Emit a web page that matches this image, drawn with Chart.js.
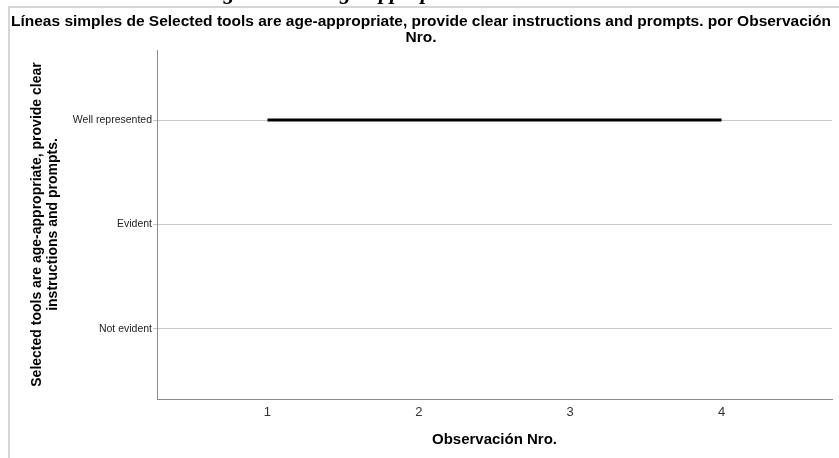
<!DOCTYPE html>
<html>
<head>
<meta charset="utf-8">
<script src="https://cdn.jsdelivr.net/npm/chart.js@4"></script>
<style>
  body { margin: 0; background: #fff; }
  canvas { display: block; }
</style>
</head>
<body>
<canvas id="canvasOne" width="839" height="458"></canvas>
<script>
// data
var observaciones = [1, 2, 3, 4];
var nivelLabels = ['Not evident', 'Evident', 'Well represented'];
var valores = ['Well represented', 'Well represented', 'Well represented', 'Well represented'];

var chartTitle = ['Líneas simples de Selected tools are age-appropriate, provide clear instructions and prompts. por Observación', 'Nro.'];
var yTitle = ['Selected tools are age-appropriate, provide clear', 'instructions and prompts.'];
var xTitle = 'Observación Nro.';

var points = observaciones.map(function(o, i) {
    return { x: o, y: nivelLabels.indexOf(valores[i]) };
});

// frame lines + the clipped caption text above the chart
var framePlugin = {
    id: 'frame',
    beforeDraw: function(chart) {
        var c = chart.ctx;
        c.save();
        c.fillStyle = '#fff';
        c.fillRect(0, 0, chart.width, chart.height);
        c.fillStyle = '#000';
        c.font = 'italic bold 22px "Liberation Serif"';
        c.textBaseline = 'alphabetic';
        c.beginPath();
        c.rect(0, 0, chart.width, 6);
        c.clip();
        c.fillText('Using', 181, -1);
        c.fillText('age-appropriate', 329, -1);
        c.restore();

        c.save();
        c.strokeStyle = '#d6d6d6';
        c.lineWidth = 2;
        c.beginPath();
        c.moveTo(9, 458);
        c.lineTo(9, 7);
        c.lineTo(839, 7);
        c.stroke();
        c.restore();
    }
};

var ctx = document.getElementById('canvasOne').getContext('2d');
var config = {
    type: 'scatter',
    data: {
        datasets: [{
            data: points,
            showLine: true,
            borderColor: '#000',
            borderWidth: 3,
            pointRadius: 0,
            pointHoverRadius: 0
        }]
    },
    options: {
        responsive: false,
        animation: false,
        layout: { padding: { top: 8, left: 10, right: 7, bottom: 0 } },
        plugins: {
            legend: { display: false },
            tooltip: { enabled: false },
            title: {
                display: true,
                text: chartTitle,
                color: '#000',
                font: { family: 'Liberation Sans', size: 15.5, weight: 'bold', lineHeight: 1.0 },
                padding: { top: 6, bottom: 5 }
            }
        },
        scales: {
            x: {
                type: 'linear',
                min: 0.27,
                max: 4.73,
                afterBuildTicks: function(scale) {
                    scale.ticks = observaciones.map(function(v) { return { value: v }; });
                },
                afterFit: function(scale) { scale.height = 59; },
                grid: { display: false, drawTicks: false },
                border: { display: true, color: '#8a8a8a', width: 1 },
                ticks: {
                    padding: 6,
                    color: '#333',
                    font: { family: 'Liberation Sans', size: 13 },
                    maxRotation: 0
                },
                title: {
                    display: true,
                    text: xTitle,
                    color: '#000',
                    font: { family: 'Liberation Sans', size: 15, weight: 'bold', lineHeight: 1.2 },
                    padding: { top: 0, bottom: 9 }
                }
            },
            y: {
                type: 'linear',
                min: -0.67,
                max: 2.67,
                afterBuildTicks: function(scale) {
                    scale.ticks = nivelLabels.map(function(l, i) { return { value: i }; });
                },
                afterFit: function(scale) { scale.width = 147; },
                grid: { color: '#c8c8c8', lineWidth: 1, drawTicks: true, tickLength: 4 },
                border: { display: true, color: '#8a8a8a', width: 1 },
                ticks: {
                    padding: 1,
                    color: '#222',
                    font: { family: 'Liberation Sans', size: 10.5 },
                    callback: function(v) { return nivelLabels[v]; }
                },
                title: {
                    display: true,
                    text: yTitle,
                    color: '#000',
                    font: { family: 'Liberation Sans', size: 14, weight: 'bold', lineHeight: 1.15 },
                    padding: { top: 19, bottom: 0 }
                }
            }
        }
    },
    plugins: [framePlugin]
};

var chart = new Chart(ctx, config);
</script>
</body>
</html>
